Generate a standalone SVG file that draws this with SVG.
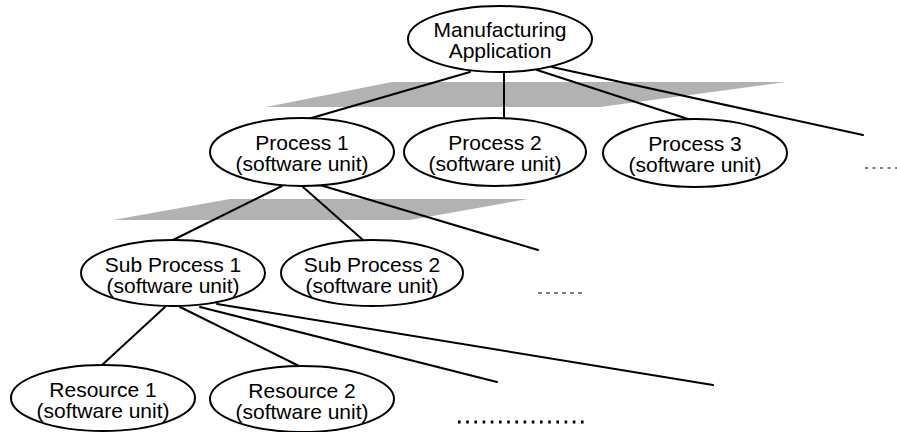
<svg xmlns="http://www.w3.org/2000/svg" width="897" height="432" viewBox="0 0 897 432">
<style>
.node ellipse{fill:#fff;stroke:#000;stroke-width:2}
.node text{font-family:"Liberation Sans",Arial,Helvetica,sans-serif;font-size:21px;fill:#000;text-anchor:middle}
.conn line{stroke:#000;stroke-width:2;stroke-linecap:round}
.band{fill:#b2b2b2}
.more{stroke:#000;fill:none}
</style>
<rect width="897" height="432" fill="#fff"/>
<g id="shading">
<polygon class="band" points="266,107 392,82 786,82 600,107"/>
<polygon class="band" points="113,220 230,199 528,199 410,220"/>
</g>
<g id="connectors" class="conn">
<line x1="470" y1="72" x2="308" y2="119"/>
<line x1="504" y1="72" x2="504" y2="119"/>
<line x1="537" y1="70" x2="688" y2="119"/>
<line x1="552" y1="67" x2="863" y2="135"/>
<line x1="282" y1="186" x2="173" y2="240"/>
<line x1="303" y1="187" x2="363" y2="240"/>
<line x1="320" y1="185" x2="538" y2="250"/>
<line x1="165" y1="307" x2="102" y2="365"/>
<line x1="180" y1="307" x2="303" y2="368"/>
<line x1="200" y1="307" x2="497" y2="382"/>
<line x1="217" y1="304" x2="713" y2="385"/>
</g>
<g id="continuations">
<line class="more" x1="865" y1="168" x2="897" y2="168" stroke-width="1.2" stroke-dasharray="3 4.5"/>
<line class="more" x1="538" y1="293" x2="584" y2="293" stroke-width="1.2" stroke-dasharray="4 4"/>
<line class="more" x1="458" y1="422" x2="584" y2="422" stroke-width="3" stroke-dasharray="2.6 5.6"/>
</g>
<g id="manufacturing-application" class="node">
<ellipse cx="500" cy="39" rx="92" ry="33"/>
<text x="500" y="37">Manufacturing</text>
<text x="500" y="58">Application</text>
</g>
<g id="process-1" class="node">
<ellipse cx="302" cy="152" rx="92" ry="34"/>
<text x="302" y="150">Process 1</text>
<text x="302" y="171">(software unit)</text>
</g>
<g id="process-2" class="node">
<ellipse cx="495" cy="152" rx="91" ry="34"/>
<text x="495" y="150">Process 2</text>
<text x="495" y="171">(software unit)</text>
</g>
<g id="process-3" class="node">
<ellipse cx="695" cy="153" rx="92" ry="34"/>
<text x="695" y="151">Process 3</text>
<text x="695" y="172">(software unit)</text>
</g>
<g id="sub-process-1" class="node">
<ellipse cx="173" cy="273" rx="92" ry="33"/>
<text x="173" y="272">Sub Process 1</text>
<text x="173" y="293">(software unit)</text>
</g>
<g id="sub-process-2" class="node">
<ellipse cx="372" cy="273" rx="91" ry="33"/>
<text x="372" y="272">Sub Process 2</text>
<text x="372" y="293">(software unit)</text>
</g>
<g id="resource-1" class="node">
<ellipse cx="103" cy="398" rx="92" ry="33"/>
<text x="103" y="397">Resource 1</text>
<text x="103" y="418">(software unit)</text>
</g>
<g id="resource-2" class="node">
<ellipse cx="302" cy="399" rx="92" ry="33"/>
<text x="302" y="398">Resource 2</text>
<text x="302" y="419">(software unit)</text>
</g>
</svg>
